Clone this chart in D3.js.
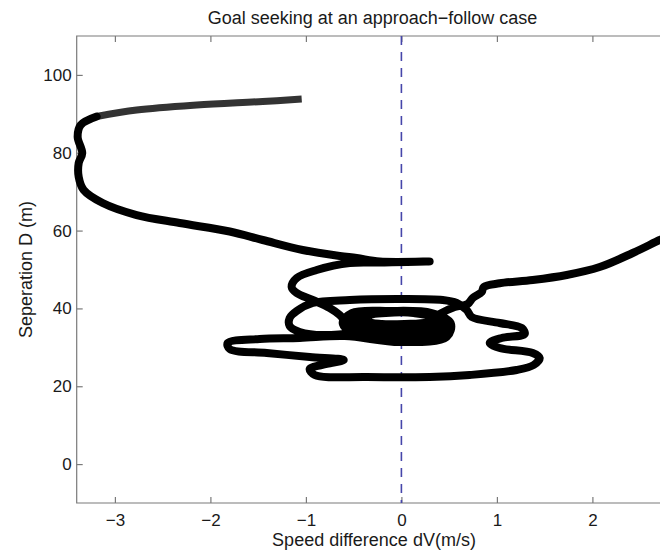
<!DOCTYPE html>
<html lang="en">
<head>
<meta charset="UTF-8">
<title>Goal seeking</title>
<style>
    body { margin: 0; background: #fff; }
    svg { display: block; }
    text { font-family: "Liberation Sans", Arial, Helvetica, sans-serif; fill: #1a1a1a; }
</style>
</head>
<body>
<svg id="chart"></svg>
<script src="https://cdn.jsdelivr.net/npm/d3@7/dist/d3.min.js"></script>
<script>
    // lead-in of the approach (drawn lighter, hatched in the original)
    const leadDV = [-1.044, -1.452, -2.143, -2.772, -3.191];
    const leadD  = [93.81, 93.17, 92.27, 90.98, 89.31];

    // rest of the trajectory: speed difference dV (m/s) vs separation D (m)
    const trackDV = [
        -3.191, -3.358, -3.390, -3.342, -3.379, -3.379, -3.327, -3.128, -2.772, -2.322,
        -1.798, -1.452, -1.034, -0.646, -0.468, -0.227, 0.296, -0.227, -0.541,
        -0.887, -1.096, -1.149, -1.096, -0.929, -0.751, -0.646, -0.573, -0.520,
        -0.782, -1.065, -1.170, -1.170, -1.096, -0.929, -0.541, -0.018, 0.432, 0.579,
        0.684, 0.736, 1.029, 1.260, 1.291, 1.050, 0.925, 1.029, 1.375, 1.448, 1.385,
        1.207, 0.715, 0.296, -0.363, -0.908, -0.960, -0.782, -0.604, -0.960, -1.410,
        -1.798, -1.819, -1.484, -1.065, -0.594,
        -0.018, 0.474, 0.516, 0.317, -0.123, -0.520, -0.615, -0.489,
        -0.018, 0.443, 0.464, 0.265, -0.143, -0.468, -0.531, -0.416,
        -0.018, 0.391, 0.412, 0.213, -0.164, -0.416, -0.468, -0.353,
        -0.018, 0.338, 0.359, 0.171, -0.164, -0.374, -0.416, -0.311,
        -0.018, 0.296, 0.317, 0.129, -0.164, -0.332, -0.353, -0.206,
        0.035, 0.275, 0.401, 0.558, 0.694,
        0.747, 0.841, 0.862, 1.029, 1.375, 1.731, 2.076, 2.422, 2.705, 2.8
    ];
    const trackD = [
        89.31, 87.13, 84.05, 79.93, 77.36, 73.77, 70.43, 67.09, 64.00, 61.95,
        59.76, 57.58, 55.01, 53.47, 52.96, 52.06, 52.06, 51.80, 51.67,
        49.87, 47.82, 45.50, 43.96, 42.16, 40.11, 38.31, 36.25, 34.20,
        33.17, 33.94, 35.48, 37.54, 39.34, 41.39, 42.16, 42.42, 42.16, 41.39,
        39.59, 37.80, 36.25, 34.97, 33.43, 32.40, 31.12, 29.83, 28.55, 27.26, 25.46,
        24.18, 22.89, 22.38, 22.38, 22.89, 24.43, 25.72, 26.75, 27.52, 28.55,
        29.57, 31.12, 32.14, 32.40, 32.91,
        31.37, 32.66, 36.25, 38.82, 39.34, 38.82, 36.25, 33.43,
        32.14, 33.43, 36.77, 38.82, 39.21, 38.57, 36.00, 33.94,
        33.04, 34.20, 37.02, 38.82, 39.08, 38.44, 36.25, 34.46,
        34.07, 34.97, 37.28, 38.82, 38.95, 38.31, 36.51, 35.10,
        35.10, 35.74, 37.54, 38.82, 38.82, 38.18, 36.77, 36.00,
        36.00, 36.51, 38.57, 40.36, 41.14,
        42.68, 44.22, 45.50, 46.46, 47.30, 48.59, 50.64, 54.24, 57.58, 58.61
    ];

    const xTicks = [-3, -2, -1, 0, 1, 2];
    const yTicks = [0, 20, 40, 60, 80, 100];

    const width = 660, height = 550;
    const plotLeft = 76.7, plotRight = 668.8, plotTop = 36, plotBottom = 503;

    const svg = d3.select("#chart").attr("width", width).attr("height", height);

    const x = d3.scaleLinear().domain([-3.4, 2.8]).range([plotLeft, plotRight]);
    const y = d3.scaleLinear().domain([-10, 110]).range([plotBottom, plotTop]);

    const axisColor = "#7a7a7a";

    // axes box (right side falls outside the picture)
    svg.append("path")
        .attr("d", `M${plotRight},${plotTop}H${plotLeft}V${plotBottom}H${plotRight}V${plotTop}`)
        .attr("fill", "none")
        .attr("stroke", axisColor)
        .attr("stroke-width", 1.2);

    const xAxis = svg.append("g")
        .attr("transform", `translate(0,${plotBottom})`)
        .call(d3.axisBottom(x).tickValues(xTicks).tickSizeInner(-6).tickSizeOuter(0).tickPadding(11)
            .tickFormat(d => d < 0 ? "\u2212" + Math.abs(d) : d));
    xAxis.select(".domain").remove();

    const xTop = svg.append("g")
        .attr("transform", `translate(0,${plotTop})`)
        .call(d3.axisTop(x).tickValues(xTicks).tickSizeInner(-6).tickSizeOuter(0).tickFormat(""));
    xTop.select(".domain").remove();

    const yAxis = svg.append("g")
        .attr("transform", `translate(${plotLeft},0)`)
        .call(d3.axisLeft(y).tickValues(yTicks).tickSizeInner(-6).tickSizeOuter(0).tickPadding(5));
    yAxis.select(".domain").remove();

    svg.selectAll(".tick line").attr("stroke", axisColor).attr("stroke-width", 1.2);
    svg.selectAll(".tick text")
        .style("font-family", "'Liberation Sans', Arial, sans-serif")
        .style("font-size", "17px")
        .attr("fill", "#1a1a1a");

    // reference line at dV = 0
    svg.append("line")
        .attr("x1", x(0)).attr("x2", x(0))
        .attr("y1", plotTop).attr("y2", plotBottom)
        .attr("stroke", "#4646aa")
        .attr("stroke-width", 1.6)
        .attr("stroke-dasharray", "9,7");

    const line = d3.line()
        .x(d => x(d[0]))
        .y(d => y(d[1]))
        .curve(d3.curveCatmullRom.alpha(0.5));

    const lead = leadDV.map((v, i) => [v, leadD[i]]);
    const track = trackDV.map((v, i) => [v, trackD[i]]);

    svg.append("path")
        .datum(lead)
        .attr("d", line)
        .attr("fill", "none")
        .attr("stroke", "#333")
        .attr("stroke-width", 7)
        .attr("stroke-linecap", "butt")
        .attr("stroke-linejoin", "round");

    svg.append("path")
        .datum(track)
        .attr("d", line)
        .attr("fill", "none")
        .attr("stroke", "#000")
        .attr("stroke-width", 8)
        .attr("stroke-linecap", "round")
        .attr("stroke-linejoin", "round");

    // labels
    svg.append("text")
        .attr("x", 372.5).attr("y", 24)
        .attr("text-anchor", "middle")
        .style("font-size", "18px")
        .text("Goal seeking at an approach\u2212follow case");

    svg.append("text")
        .attr("x", 374).attr("y", 546)
        .attr("text-anchor", "middle")
        .style("font-size", "18px")
        .text("Speed difference dV(m/s)");

    svg.append("text")
        .attr("transform", `translate(32,${(plotTop + plotBottom) / 2}) rotate(-90)`)
        .attr("text-anchor", "middle")
        .style("font-size", "18px")
        .text("Seperation D (m)");
</script>
</body>
</html>
